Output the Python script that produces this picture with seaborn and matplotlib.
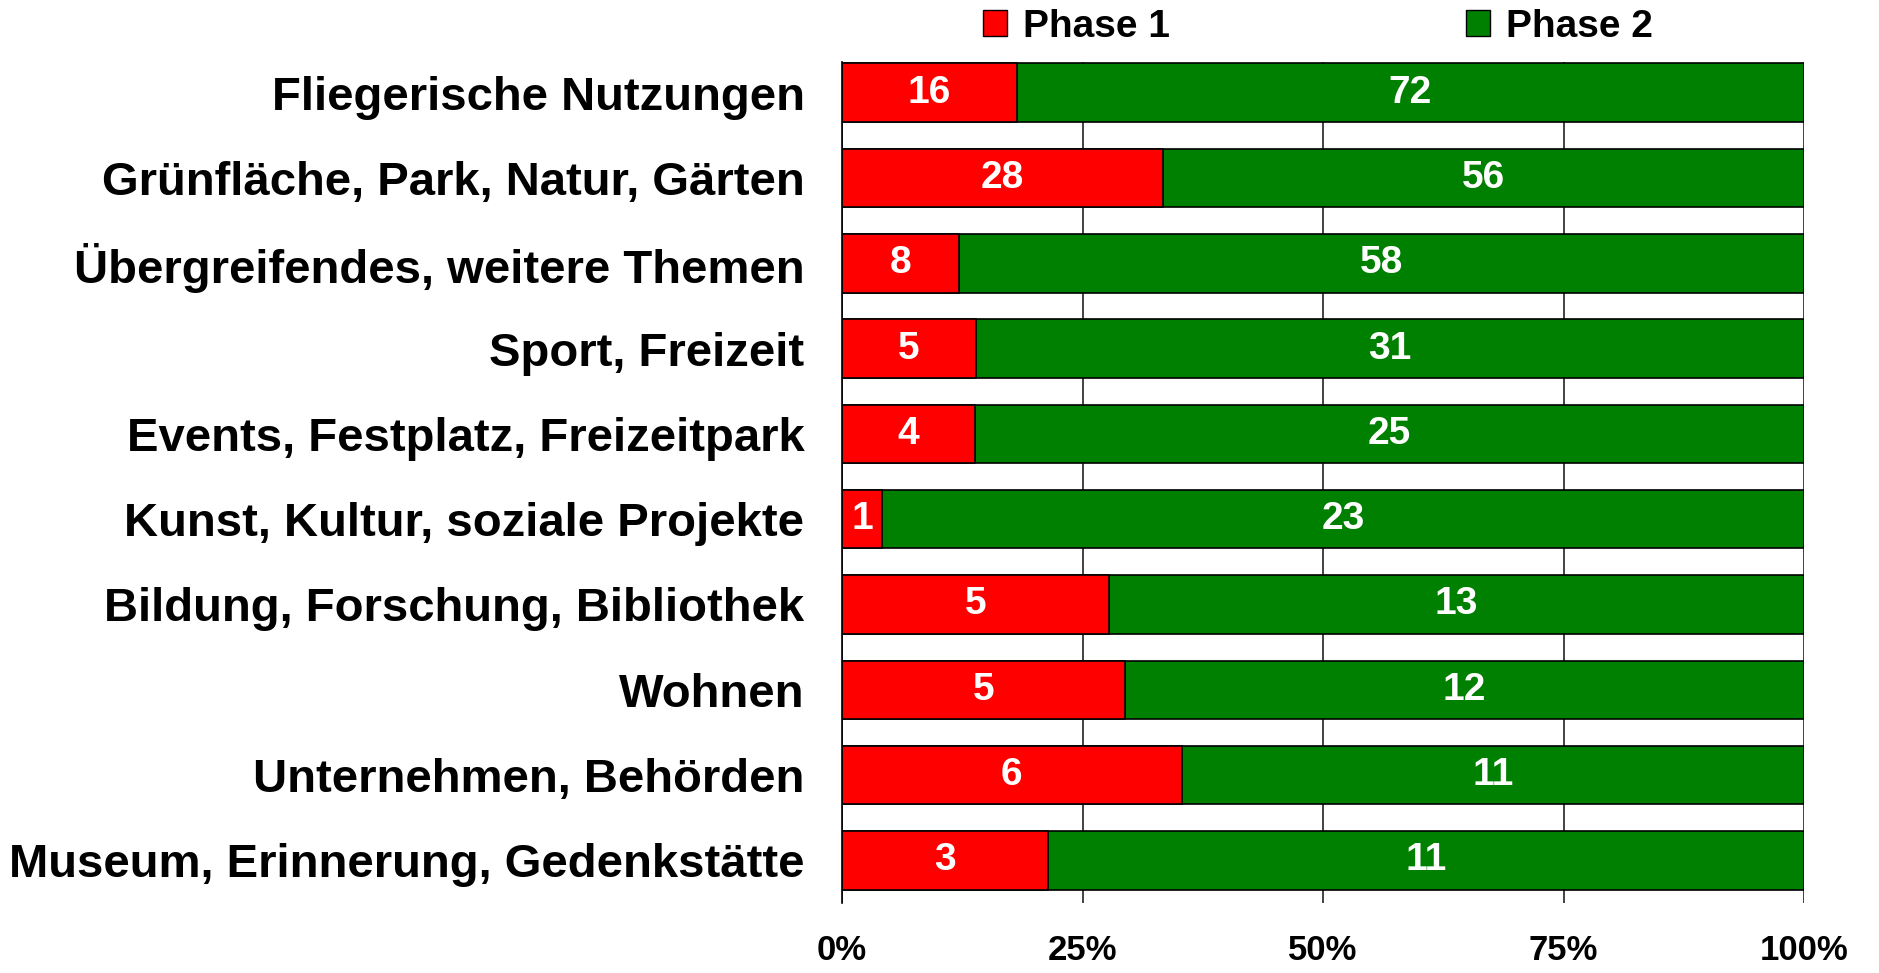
import seaborn as sns
import pandas as pd
import matplotlib.pyplot as plt
from matplotlib.patches import Patch

# Daten (Anzahl Nennungen je Phase)
categories = [
    'Fliegerische Nutzungen',
    'Grünfläche, Park, Natur, Gärten',
    'Übergreifendes, weitere Themen',
    'Sport, Freizeit',
    'Events, Festplatz, Freizeitpark',
    'Kunst, Kultur, soziale Projekte',
    'Bildung, Forschung, Bibliothek',
    'Wohnen',
    'Unternehmen, Behörden',
    'Museum, Erinnerung, Gedenkstätte',
]
phase1 = [16, 28, 8, 5, 4, 1, 5, 5, 6, 3]
phase2 = [72, 56, 58, 31, 25, 23, 13, 12, 11, 11]
series_names = ['Phase 1', 'Phase 2']
ticks = [0, 25, 50, 75, 100]
tick_labels = ['0%', '25%', '50%', '75%', '100%']

red = '#FF0000'
green = '#008000'

df = pd.DataFrame({'Kategorie': categories, 'Phase 1': phase1, 'Phase 2': phase2})
df['total'] = df['Phase 1'] + df['Phase 2']
df['p1'] = df['Phase 1'] / df['total'] * 100
df['full'] = 100.0

sns.set_style('white')
plt.rcParams['font.family'] = ['Liberation Sans', 'DejaVu Sans']
plt.rcParams['font.weight'] = 'bold'
plt.rcParams['text.color'] = 'black'
plt.rcParams['xtick.color'] = 'black'
plt.rcParams['ytick.color'] = 'black'

W, H = 1879, 973
fig = plt.figure(figsize=(W / 100, H / 100), dpi=100)
ax = fig.add_axes([842 / W, 1 - 903 / H, (1804 - 842) / W, (903 - 62) / H])

# gesamter Balken (Phase 2) und Anteil Phase 1 darüber
sns.barplot(data=df, x='full', y='Kategorie', orient='h', color=green, saturation=1,
            width=0.686, edgecolor='black', linewidth=1.2, errorbar=None, ax=ax)
sns.barplot(data=df, x='p1', y='Kategorie', orient='h', color=red, saturation=1,
            width=0.686, edgecolor='black', linewidth=1.2, errorbar=None, ax=ax)

ax.bar_label(ax.containers[1], labels=[str(v) for v in phase1], label_type='center',
             color='white', fontsize=28, fontweight='bold')
for i, row in df.iterrows():
    ax.text(row['p1'] + (100 - row['p1']) / 2, i, str(row['Phase 2']),
            ha='center', va='center', color='white', fontsize=28, fontweight='bold')

ax.set_xlim(0, 100)
ax.set_ylim(len(categories) - 0.5, -0.36)
ax.set_xticks(ticks, tick_labels)
ax.set_xlabel('')
ax.set_ylabel('')
ax.tick_params(axis='x', length=0, pad=22, labelsize=25, labelcolor='black')
ax.tick_params(axis='y', length=0, pad=27, labelsize=34, labelcolor='black')

ax.grid(axis='x', color='#222222', linewidth=1.2)
ax.set_axisbelow(True)
for s in ['top', 'right', 'bottom']:
    ax.spines[s].set_visible(False)
ax.spines['left'].set_color('black')
ax.spines['left'].set_linewidth(1.2)

handles = [Patch(facecolor=red, edgecolor='black'), Patch(facecolor=green, edgecolor='black')]
fig.legend(handles, series_names, ncol=2, loc='center left',
           bbox_to_anchor=(983 / W, 1 - 27 / H), frameon=False, fontsize=28,
           labelcolor='black',
           handlelength=0.62, handleheight=0.64, handletextpad=0.41,
           columnspacing=7.6, borderpad=0, borderaxespad=0)

fig.savefig('out.png', dpi=100)
